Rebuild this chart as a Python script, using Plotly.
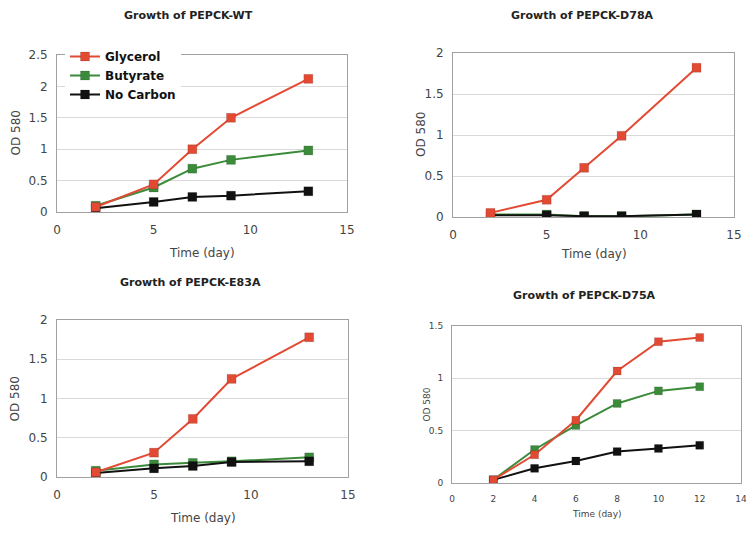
import plotly.graph_objects as go

# ---- data ----
days_a = [2, 5, 7, 9, 13]
days_b = [2, 4, 6, 8, 10, 12]
series_names = ["Glycerol", "Butyrate", "No Carbon"]

wt_glycerol = [0.08, 0.44, 1.00, 1.50, 2.12]
wt_butyrate = [0.10, 0.39, 0.69, 0.83, 0.98]
wt_nocarbon = [0.06, 0.16, 0.24, 0.26, 0.33]

d78_glycerol = [0.05, 0.21, 0.60, 0.99, 1.82]
d78_butyrate = [0.03, 0.03, 0.01, 0.01, 0.03]
d78_nocarbon = [0.02, 0.02, 0.01, 0.01, 0.03]

e83_glycerol = [0.06, 0.31, 0.74, 1.25, 1.78]
e83_butyrate = [0.08, 0.16, 0.18, 0.20, 0.25]
e83_nocarbon = [0.05, 0.11, 0.14, 0.19, 0.20]

d75_glycerol = [0.03, 0.27, 0.60, 1.07, 1.35, 1.39]
d75_butyrate = [0.03, 0.32, 0.55, 0.76, 0.88, 0.92]
d75_nocarbon = [0.03, 0.14, 0.21, 0.30, 0.33, 0.36]

titles = ["Growth of PEPCK-WT", "Growth of PEPCK-D78A",
          "Growth of PEPCK-E83A", "Growth of PEPCK-D75A"]

colors = ["#e24a33", "#3b8b3b", "#111111"]
W, H = 748, 537
FONT = "DejaVu Sans"

def px(x):
    return x / W

def py(y):
    return 1 - y / H

panels = [
    dict(x=days_a, ys=[wt_glycerol, wt_butyrate, wt_nocarbon], xd=[57, 347], yd=[212, 55],
         xr=[0, 15], xt=5, yr=[0, 2.5], yt=0.5, fs=12, title_y=15, title_x=188,
         xlab_y=253, ylab_x=15),
    dict(x=days_a, ys=[d78_glycerol, d78_butyrate, d78_nocarbon], xd=[453, 734], yd=[217, 53],
         xr=[0, 15], xt=5, yr=[0, 2], yt=0.5, fs=12, title_y=15, title_x=582,
         xlab_y=254, ylab_x=421),
    dict(x=days_a, ys=[e83_glycerol, e83_butyrate, e83_nocarbon], xd=[57, 348], yd=[477, 320],
         xr=[0, 15], xt=5, yr=[0, 2], yt=0.5, fs=12, title_y=282, title_x=190,
         xlab_y=518, ylab_x=14),
    dict(x=days_b, ys=[d75_glycerol, d75_butyrate, d75_nocarbon], xd=[452, 741], yd=[483, 326],
         xr=[0, 14], xt=2, yr=[0, 1.5], yt=0.5, fs=9, title_y=295, title_x=584,
         xlab_y=514, ylab_x=426),
]

fig = go.Figure()
annotations = []
layout = dict()
for i, p in enumerate(panels):
    n = i + 1
    xa = "x" if n == 1 else f"x{n}"
    ya = "y" if n == 1 else f"y{n}"
    for k in [1, 2, 0]:
        fig.add_trace(go.Scatter(
            x=p["x"], y=p["ys"][k], name=series_names[k], mode="lines+markers",
            line=dict(color=colors[k], width=2),
            marker=dict(symbol="square", size=9 if i != 3 else 8, color=colors[k],
                        line=dict(color="rgba(0,0,0,0.25)", width=0.5)),
            xaxis=xa, yaxis=ya, showlegend=False, legendrank=k + 1))
    layout["xaxis" if n == 1 else f"xaxis{n}"] = dict(
        domain=[px(p["xd"][0]), px(p["xd"][1])], range=p["xr"], dtick=p["xt"], tick0=0,
        anchor=ya, showgrid=False, zeroline=False, showline=True, linecolor="#a0a0a0",
        linewidth=1, mirror=True, ticks="", fixedrange=True, automargin=False,
        ticklabelstandoff=7,
        tickfont=dict(family=FONT, size=p["fs"], color="#444"))
    layout["yaxis" if n == 1 else f"yaxis{n}"] = dict(
        domain=[py(p["yd"][0]), py(p["yd"][1])], range=p["yr"], dtick=p["yt"], tick0=0,
        anchor=xa, showgrid=True, gridcolor="#d9d9d9", gridwidth=1, zeroline=False,
        showline=True, linecolor="#a0a0a0", linewidth=1, mirror=True, ticks="",
        automargin=False, ticklabelstandoff=6, fixedrange=True,
        tickfont=dict(family=FONT, size=p["fs"], color="#444"))
    annotations.append(dict(text="<b>" + titles[i] + "</b>", x=px(p["title_x"]), y=py(p["title_y"]),
                            xref="paper", yref="paper", showarrow=False,
                            xanchor="center", yanchor="middle",
                            font=dict(family=FONT, size=11, color="#222")))
    annotations.append(dict(text="Time (day)", x=(px(p["xd"][0]) + px(p["xd"][1])) / 2,
                            y=py(p["xlab_y"]), xref="paper", yref="paper", showarrow=False,
                            xanchor="center", yanchor="middle",
                            font=dict(family=FONT, size=12 if i != 3 else 9, color="#444")))
    annotations.append(dict(text="OD 580", x=px(p["ylab_x"]),
                            y=(py(p["yd"][0]) + py(p["yd"][1])) / 2, textangle=-90,
                            xref="paper", yref="paper", showarrow=False,
                            xanchor="center", yanchor="middle",
                            font=dict(family=FONT, size=12 if i != 3 else 9, color="#444")))

# legend entries (panel 1)
for idx in [2, 0, 1]:
    fig.data[idx].showlegend = True

fig.update_layout(
    width=W, height=H, margin=dict(l=0, r=0, t=0, b=0, autoexpand=False),
    paper_bgcolor="white", plot_bgcolor="white",
    annotations=annotations,
    legend=dict(x=px(65), y=py(42), xanchor="left", yanchor="top",
                bgcolor="white", font=dict(family=FONT, size=12, color="#111", weight="bold"),
                traceorder="normal", tracegroupgap=0, itemwidth=30),
    **layout)

fig.write_html("out.html", config={"displayModeBar": False},
               post_script="document.body.style.margin='0';document.body.style.padding='0';")
